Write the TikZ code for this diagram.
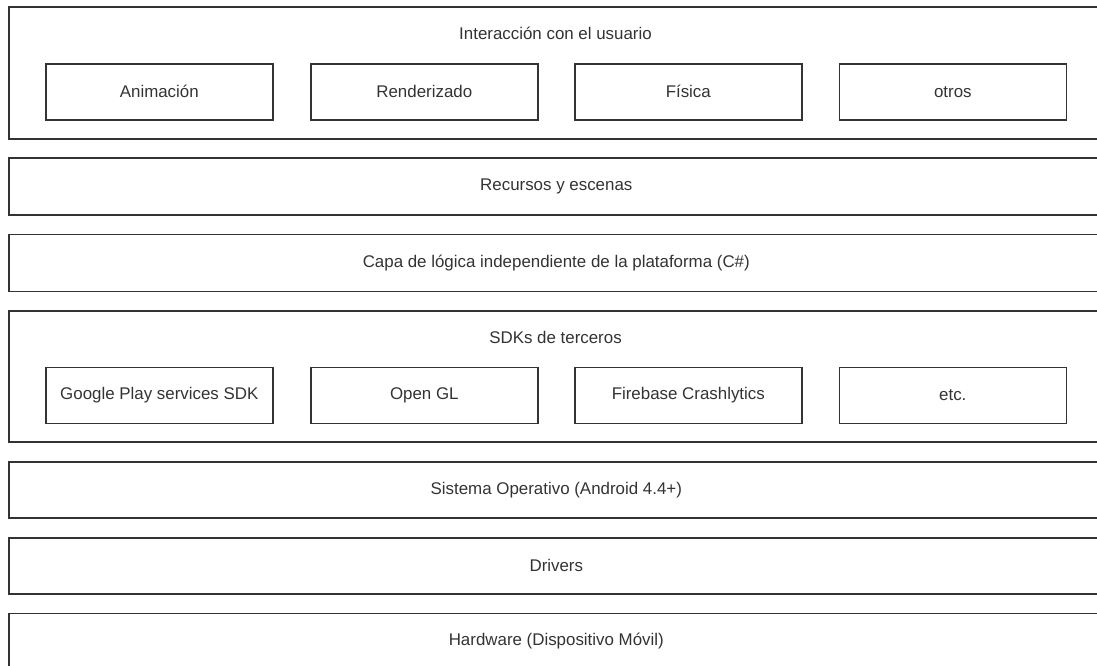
\documentclass[tikz,border=0pt]{standalone}
\usepackage{fontspec}
\setmainfont{Liberation Sans}
\begin{document}
\begin{tikzpicture}[x=1pt,y=-1pt,
  layer/.style={draw=black!80, line width=1.6pt, minimum width=1095pt, anchor=north west, inner sep=0pt, text=black!80, font=\fontsize{16.9}{20}\selectfont},
  module/.style={draw=black!80, line width=1.6pt, minimum width=227pt, minimum height=56pt, anchor=north west, inner sep=0pt, text=black!80, font=\fontsize{16.9}{20}\selectfont},
  ttl/.style={text=black!80, font=\fontsize{16.9}{20}\selectfont, inner sep=0pt}]
\useasboundingbox (0,0) rectangle (1097,666);
\clip (0,0) rectangle (1097,666);
% layer 1
\node[layer, minimum height=132pt] (ui) at (8,6) {};
\node[ttl] (uit) at (555.5,33) {Interacción con el usuario};
\node[module] (anim) at (45,63) {Animación};
\node[module] (rend) at (310,63) {Renderizado};
\node[module] (fis) at (574,63) {Física};
\node[module] (otr) at (838.5,63) {otros};
% layer 2
\node[layer, minimum height=57pt] (rec) at (8,157) {Recursos y escenas};
% layer 3
\node[layer, minimum height=57pt] (cap) at (8,233.5) {Capa de lógica independiente de la plataforma (C\#)};
% layer 4
\node[layer, minimum height=131pt] (sdk) at (8,310) {};
\node[ttl] (sdkt) at (555.5,337) {SDKs de terceros};
\node[module] (gps) at (45,366.5) {Google Play services SDK};
\node[module] (ogl) at (310,366.5) {Open GL};
\node[module] (fcr) at (574,366.5) {Firebase Crashlytics};
\node[module] (etc) at (838.5,366.5) {etc.};
% layer 5
\node[layer, minimum height=56pt] (so) at (8,461) {Sistema Operativo (Android 4.4+)};
% layer 6
\node[layer, minimum height=56pt] (drv) at (8,537) {Drivers};
% layer 7
\node[layer, minimum height=56pt] (hw) at (8,612.5) {Hardware (Dispositivo Móvil)};
\end{tikzpicture}
\end{document}
